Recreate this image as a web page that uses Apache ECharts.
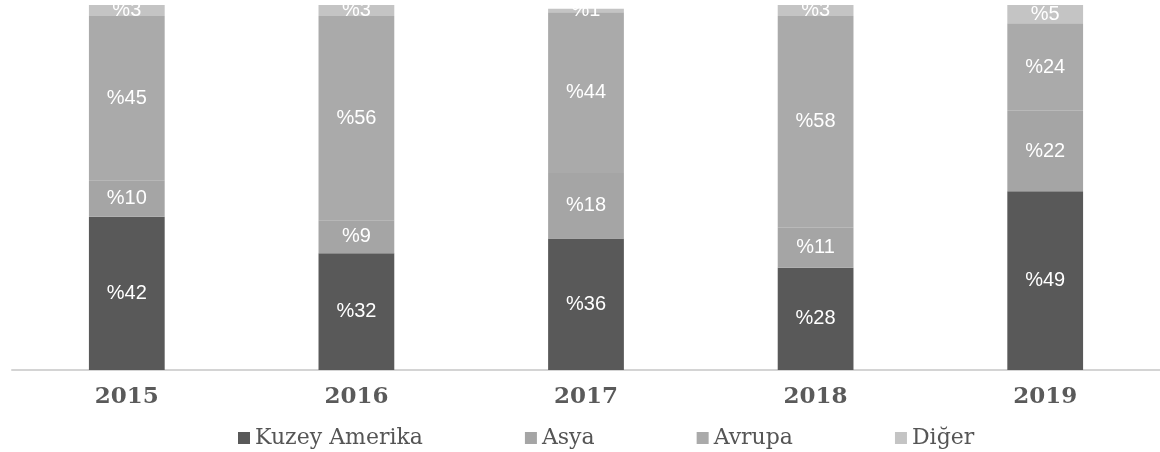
<!DOCTYPE html>
<html>
<head>
<meta charset="utf-8">
<script src="https://cdn.jsdelivr.net/npm/echarts@6/dist/echarts.min.js"></script>
<style>html,body{margin:0;padding:0;background:#fff;}#c{width:1160px;height:452px;}</style>
</head>
<body>
<div id="c"></div>
<script>
const categories = ['2015', '2016', '2017', '2018', '2019'];
const seriesNames = ['Kuzey Amerika', 'Asya', 'Avrupa', 'Diğer'];
const kuzeyAmerika = [42, 32, 36, 28, 49];
const asya = [10, 9, 18, 11, 22];
const avrupa = [45, 56, 44, 58, 24];
const diger = [3, 3, 1, 3, 5];
const colors = ['#595959', '#a5a5a5', '#aaaaaa', '#c4c4c4'];

const dataSets = [kuzeyAmerika, asya, avrupa, diger];
const chart = echarts.init(document.getElementById('c'));
chart.setOption({
  animation: false,
  grid: { left: 12, width: 1162, top: 5, bottom: 82 },
  legend: {
    left: 233, top: 422,
    itemWidth: 12, itemHeight: 12, itemGap: 102,
    icon: 'rect',
    textStyle: { fontFamily: 'DejaVu Serif', fontSize: 22, color: '#555' },
    data: seriesNames
  },
  xAxis: {
    type: 'category', data: categories,
    axisLine: { lineStyle: { color: '#d4d4d4', width: 2 } },
    axisTick: { show: false },
    axisLabel: { margin: 16, fontFamily: 'DejaVu Serif', fontWeight: 'bold', fontSize: 23, color: '#5a5a5a' }
  },
  yAxis: { type: 'value', min: 0, max: 100, show: false, splitLine: { show: false } },
  series: dataSets.map((d, i) => ({
    name: seriesNames[i], type: 'bar', stack: 'total', data: d,
    barWidth: '33%',
    itemStyle: { color: colors[i] },
    label: {
      show: true, position: 'inside', formatter: p => '%' + p.value,
      fontFamily: 'Liberation Sans', fontSize: 20, color: '#fff'
    }
  }))
});
</script>
</body>
</html>
